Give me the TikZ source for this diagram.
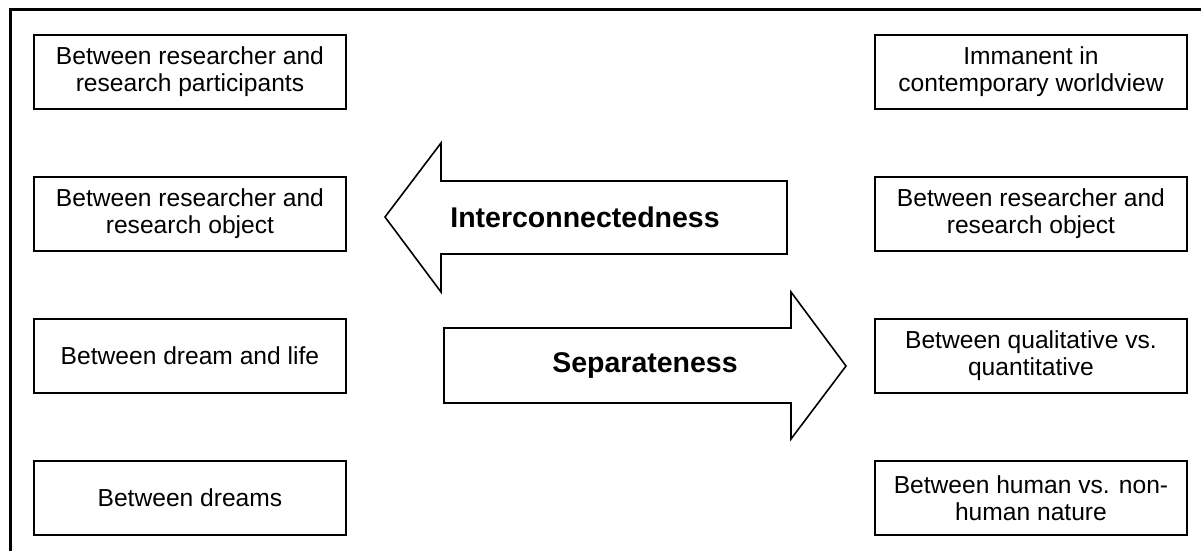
\documentclass[tikz,border=0pt]{standalone}
\usepackage{fontspec}
\setmainfont{Liberation Sans}
\begin{document}
\begin{tikzpicture}[x=1pt,y=-1pt,
  itembox/.style={draw, line width=1.9pt, minimum width=312pt, minimum height=74pt,
    align=center, inner sep=0pt, font=\fontsize{24.6}{27.3}\selectfont, anchor=north west},
  bigarrow/.style={draw, line width=1.6pt, line join=miter},
  arrowlabel/.style={font=\fontsize{28.5}{32}\selectfont\bfseries, inner sep=0pt}]
\useasboundingbox (0,0) rectangle (1201,551);
\draw[line width=3pt] (10,551) -- (10,10) -- (1201,10);
% left column
\node[itembox] (l1) at (33,34) {Between researcher and\\research participants};
\node[itembox] (l2) at (33,176) {Between researcher and\\research object};
\node[itembox] (l3) at (33,318) {Between dream and life};
\node[itembox] (l4) at (33,460) {Between dreams};
% right column
\node[itembox] (r1) at (874,34) {Immanent in\\contemporary worldview};
\node[itembox] (r2) at (874,176) {Between researcher and\\research object};
\node[itembox] (r3) at (874,318) {Between qualitative vs.\\quantitative};
\node[itembox] (r4) at (874,460) {Between human vs. non-\\human nature};
% arrows
\draw[bigarrow] (385,217) -- (441,143) -- (441,181) -- (787,181) -- (787,254) -- (441,254) -- (441,292) -- cycle;
\node[arrowlabel] (inter) at (585,217) {Interconnectedness};
\draw[bigarrow] (846,366) -- (791,292) -- (791,328) -- (444,328) -- (444,403) -- (791,403) -- (791,439) -- cycle;
\node[arrowlabel] (sep) at (645,366) {Separateness};
\end{tikzpicture}
\end{document}
